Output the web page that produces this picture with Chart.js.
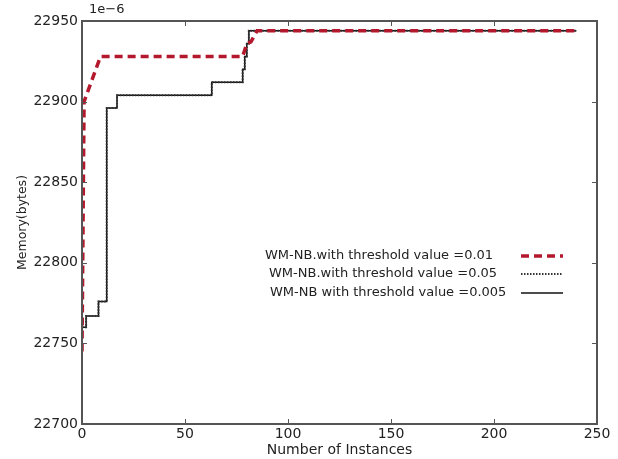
<!DOCTYPE html>
<html>
<head>
<meta charset="utf-8">
<script src="https://cdn.jsdelivr.net/npm/chart.js@4/dist/chart.umd.min.js"></script>
<style>
  html, body { margin: 0; padding: 0; background: #fff; }
  #wrap { width: 618px; height: 459px; }
</style>
</head>
<body>
<div id="wrap"><canvas id="memChart" width="618" height="459"></canvas></div>
<script>
// memory usage per processed instance, one series per threshold value
const xThr001 = [0, 1, 9, 78, 80, 82, 85, 240];
const yThr001 = [22745, 22900, 22928, 22928, 22936, 22937, 22944, 22944];

const xThr005 = [0, 2, 8, 12, 17, 63, 78, 79, 80, 81, 240];
const yThr005 = [22760, 22767, 22776, 22896, 22904, 22912, 22920, 22928, 22936, 22944, 22944];

const xThr0005 = [0, 2, 8, 12, 17, 63, 78, 79, 80, 81, 240];
const yThr0005 = [22760, 22767, 22776, 22896, 22904, 22912, 22920, 22928, 22936, 22944, 22944];

const seriesLabels = [
  'WM-NB.with threshold value =0.01',
  'WM-NB.with threshold value =0.05',
  'WM-NB with threshold value =0.005'
];
const xTicks = [0, 50, 100, 150, 200, 250];
const yTicks = [22700, 22750, 22800, 22850, 22900, 22950];

function toPoints(xs, ys) {
  return xs.map((x, i) => ({ x: x, y: ys[i] }));
}

const FONT = 'DejaVu Sans, sans-serif';
const AXIS_COLOR = '#555';
const TEXT_COLOR = '#222';

// frame, inward ticks, offset text and legend (matplotlib look)
const framePlugin = {
  id: 'frame',
  afterDatasetsDraw(chart) {
    const { ctx, chartArea: a, scales } = chart;
    ctx.save();
    ctx.strokeStyle = AXIS_COLOR;
    ctx.lineWidth = 2;
    ctx.strokeRect(a.left, a.top, a.right - a.left, a.bottom - a.top);

    ctx.lineWidth = 1;
    ctx.beginPath();
    xTicks.forEach(v => {
      const px = Math.round(scales.x.getPixelForValue(v)) + 0.5;
      ctx.moveTo(px, a.bottom); ctx.lineTo(px, a.bottom - 5);
      ctx.moveTo(px, a.top); ctx.lineTo(px, a.top + 5);
    });
    yTicks.forEach(v => {
      const py = Math.round(scales.y.getPixelForValue(v)) + 0.5;
      ctx.moveTo(a.left, py); ctx.lineTo(a.left + 5, py);
      ctx.moveTo(a.right, py); ctx.lineTo(a.right - 5, py);
    });
    ctx.stroke();

    ctx.fillStyle = TEXT_COLOR;
    ctx.font = '13px ' + FONT;
    ctx.textAlign = 'left';
    ctx.textBaseline = 'middle';
    ctx.fillText('1e\u22126', a.left + 7, a.top - 11);

    // legend entries: text first, line sample after
    const ds = chart.data.datasets;
    const rows = [256, 274, 293];
    const textX = [265, 269, 270];
    ctx.font = '13px ' + FONT;
    ds.forEach((d, i) => {
      ctx.fillStyle = TEXT_COLOR;
      ctx.fillText(d.label, textX[i], rows[i]);
      ctx.strokeStyle = d.borderColor;
      ctx.lineWidth = d.borderWidth;
      ctx.setLineDash(d.borderDash || []);
      ctx.beginPath();
      ctx.moveTo(521, rows[i]);
      ctx.lineTo(563, rows[i]);
      ctx.stroke();
    });
    ctx.restore();
  }
};

new Chart(document.getElementById('memChart').getContext('2d'), {
  type: 'line',
  data: {
    datasets: [
      {
        label: seriesLabels[0],
        data: toPoints(xThr001, yThr001),
        borderColor: '#b3182c',
        borderWidth: 3.5,
        borderDash: [8, 5],
        pointRadius: 0,
        tension: 0
      },
      {
        label: seriesLabels[1],
        data: toPoints(xThr005, yThr005),
        borderColor: '#333',
        borderWidth: 2,
        borderDash: [1.5, 1.5],
        stepped: 'before',
        pointRadius: 0
      },
      {
        label: seriesLabels[2],
        data: toPoints(xThr0005, yThr0005),
        borderColor: '#111',
        borderWidth: 1.5,
        stepped: 'before',
        pointRadius: 0
      }
    ]
  },
  options: {
    responsive: false,
    animation: false,
    layout: { padding: { top: 21, right: 21, left: 0, bottom: 0 } },
    plugins: { legend: { display: false }, tooltip: { enabled: false } },
    scales: {
      x: {
        type: 'linear',
        min: 0, max: 250,
        grid: { display: false, drawTicks: false },
        border: { display: false },
        afterBuildTicks: s => { s.ticks = xTicks.map(v => ({ value: v })); },
        afterFit: s => { s.height = 35; },
        ticks: { color: TEXT_COLOR, font: { family: FONT, size: 14 }, padding: 2, maxRotation: 0 },
        title: { display: true, text: 'Number of Instances', color: TEXT_COLOR,
                 font: { family: FONT, size: 14 }, padding: { top: -4, bottom: 0 } }
      },
      y: {
        min: 22700, max: 22950,
        grid: { display: false, drawTicks: false },
        border: { display: false },
        afterBuildTicks: s => { s.ticks = yTicks.map(v => ({ value: v })); },
        afterFit: s => { s.width = 82; },
        ticks: { color: TEXT_COLOR, font: { family: FONT, size: 14 }, padding: 4,
                 callback: v => String(v) },
        title: { display: true, text: 'Memory(bytes)', color: TEXT_COLOR,
                 font: { family: FONT, size: 12.5 }, padding: { top: 15, bottom: 0 } }
      }
    }
  },
  plugins: [framePlugin]
});
</script>
</body>
</html>
